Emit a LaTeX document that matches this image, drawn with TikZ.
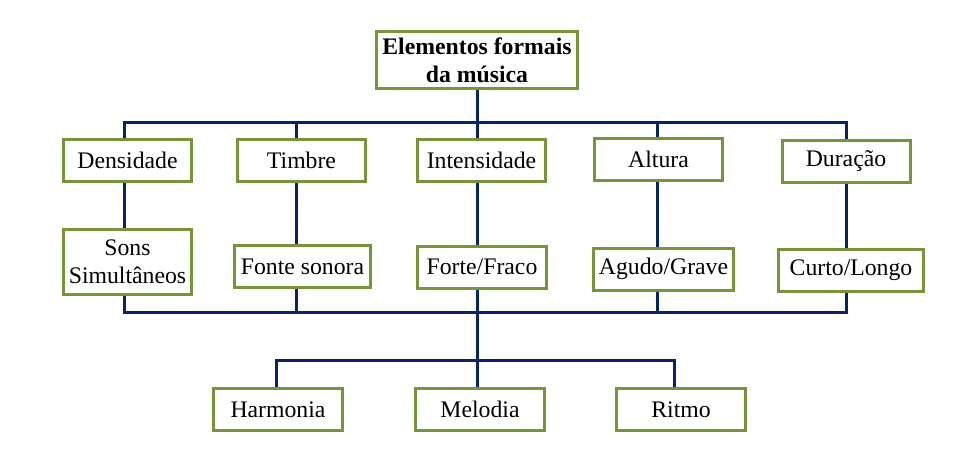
\documentclass[tikz,border=0pt]{standalone}
\usepackage{fontspec}
\setmainfont{Liberation Serif}
\usepackage{xcolor}
\usetikzlibrary{positioning, calc}
\definecolor{boxgreen}{RGB}{119,147,60}
\definecolor{linenavy}{RGB}{8,36,100}

\begin{document}
\begin{tikzpicture}[x=0.75pt, y=-0.75pt]
    \tikzstyle{block} = [rectangle, draw=boxgreen, line width=2.25pt, align=center,
                         inner sep=0pt, minimum width=96pt, minimum height=31.5pt,
                         font=\fontsize{17.8}{21}\selectfont]
    \tikzstyle{bus} = [draw=linenavy, line width=2.25pt]

    \useasboundingbox (0,0) rectangle (975,457);

    \node [block, minimum width=151pt, minimum height=43pt, font=\fontsize{17.8}{21}\selectfont\bfseries] (top) at (477,60) {
        Elementos formais\\da música
    };

    \node [block] (dens) at (127.5,160.5) {Densidade};
    \node [block] (timb) at (301.5,160.5) {Timbre};
    \node [block] (inte) at (481.5,160.5) {Intensidade};
    \node [block] (altu) at (658.5,159.5) {Altura};
    \node [block] (dura) at (846,161.5) {Duração};

    \node [block, minimum height=49pt] (sons) at (127.5,262) {Sons\\Simultâneos};
    \node [block, minimum width=102pt] (font) at (302.5,266.5) {Fonte sonora};
    \node [block, minimum width=97pt] (fort) at (482,267) {Forte/Fraco};
    \node [block, minimum width=105pt] (agud) at (663.5,269) {Agudo/Grave};
    \node [block, minimum width=109pt] (curt) at (851,270) {Curto/Longo};

    \node [block, minimum width=97pt] (harm) at (278,409.5) {Harmonia};
    \node [block, minimum width=97pt] (melo) at (480,409.5) {Melodia};
    \node [block, minimum width=97pt] (ritm) at (681,409.5) {Ritmo};

    \coordinate (b1) at (124,122);
    \coordinate (b2) at (296,122);
    \coordinate (b3) at (477,122);
    \coordinate (b4) at (657,122);
    \coordinate (b5) at (846,122);
    \coordinate (c1) at (124,312.5);
    \coordinate (c2) at (296,312.5);
    \coordinate (c3) at (477,312.5);
    \coordinate (c4) at (657,312.5);
    \coordinate (c5) at (846,312.5);
    \coordinate (m1) at (276,360);
    \coordinate (m2) at (477,360);
    \coordinate (m3) at (674,360);

    \draw[bus] (top.south -| b3) -- (b3);
    \draw[bus] (b1 |- dens.north) -- (b1) -- (b5) -- (b5 |- dura.north);
    \draw[bus] (b2) -- (b2 |- timb.north);
    \draw[bus] (b3) -- (b3 |- inte.north);
    \draw[bus] (b4) -- (b4 |- altu.north);

    \draw[bus] (b1 |- dens.south) -- (b1 |- sons.north);
    \draw[bus] (b2 |- timb.south) -- (b2 |- font.north);
    \draw[bus] (b3 |- inte.south) -- (b3 |- fort.north);
    \draw[bus] (b4 |- altu.south) -- (b4 |- agud.north);
    \draw[bus] (b5 |- dura.south) -- (b5 |- curt.north);

    \draw[bus] (c1 |- sons.south) -- (c1) -- (c5) -- (c5 |- curt.south);
    \draw[bus] (c2 |- font.south) -- (c2);
    \draw[bus] (c3 |- fort.south) -- (c3);
    \draw[bus] (c4 |- agud.south) -- (c4);

    \draw[bus] (c3) -- (m2) -- (m2 |- melo.north);
    \draw[bus] (m1 |- harm.north) -- (m1) -- (m3) -- (m3 |- ritm.north);
\end{tikzpicture}
\end{document}
